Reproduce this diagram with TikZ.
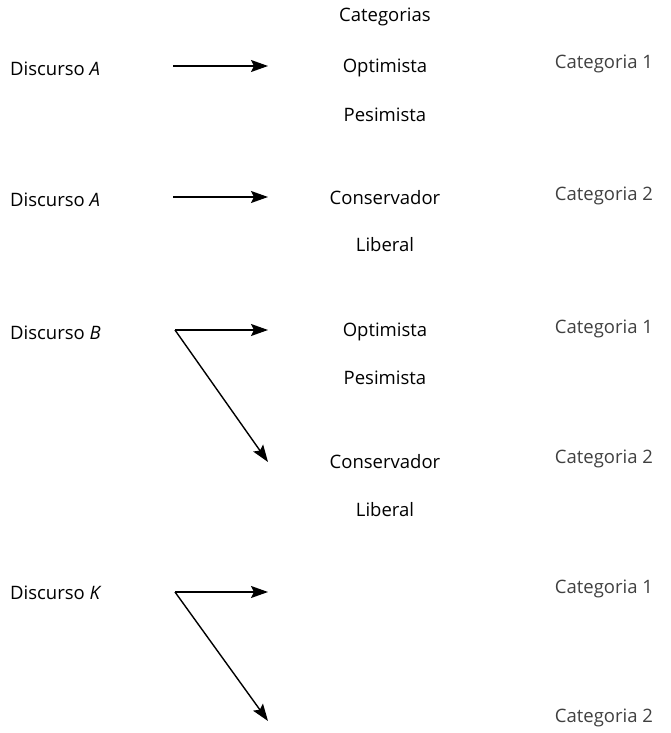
\documentclass[tikz,border=0pt]{standalone}
\usepackage{fontspec}
\setmainfont{Open Sans}
\usetikzlibrary{arrows.meta}
\begin{document}
\begin{tikzpicture}[x=1pt,y=-1pt,
  lbl/.style={font=\fontsize{18.5}{22}\selectfont,inner sep=0pt,anchor=west},
  mid/.style={font=\fontsize{18.5}{22}\selectfont,inner sep=0pt,anchor=center},
  cat/.style={font=\fontsize{18.5}{22}\selectfont,inner sep=0pt,anchor=center,text=black!75},
  arr/.style={line width=1.4pt,-{Stealth[length=17pt,width=12pt,inset=3pt]}}]
\useasboundingbox (0,0) rectangle (671,733);
% header
\node[mid] (hdr) at (385,17) {Categorias};
% row 1
\node[lbl] (d1) at (10,69) {Discurso \textit{A}};
\node[mid] (o1) at (385,68) {Optimista};
\node[mid] (p1) at (385,115) {Pesimista};
\node[cat] (c11) at (604,64) {Categoria 1};
\coordinate (s1) at (173,66);
\coordinate (e1) at (268,66);
\draw[arr] (s1) -- (e1);
% row 2
\node[lbl] (d2) at (10,200) {Discurso \textit{A}};
\node[mid] (cv2) at (385,198) {Conservador};
\node[mid] (l2) at (385,245) {Liberal};
\node[cat] (c22) at (604,196) {Categoria 2};
\coordinate (s2) at (173,197);
\coordinate (e2) at (268,197);
\draw[arr] (s2) -- (e2);
% row 3
\node[lbl] (d3) at (10,333) {Discurso \textit{B}};
\node[mid] (o3) at (385,332) {Optimista};
\node[mid] (p3) at (385,378) {Pesimista};
\node[mid] (cv3) at (385,462) {Conservador};
\node[mid] (l3) at (385,510) {Liberal};
\node[cat] (c31) at (604,329) {Categoria 1};
\node[cat] (c32) at (604,459) {Categoria 2};
\coordinate (s3) at (175,330);
\coordinate (e3a) at (268,330);
\coordinate (e3b) at (268,462);
\draw[arr] (s3) -- (e3a);
\draw[arr] (s3) -- (e3b);
% row 4
\node[lbl] (d4) at (10,593) {Discurso \textit{K}};
\node[cat] (c41) at (604,589) {Categoria 1};
\node[cat] (c42) at (604,718) {Categoria 2};
\coordinate (s4) at (175,592);
\coordinate (e4a) at (268,592);
\coordinate (e4b) at (268,721);
\draw[arr] (s4) -- (e4a);
\draw[arr] (s4) -- (e4b);
\end{tikzpicture}
\end{document}
